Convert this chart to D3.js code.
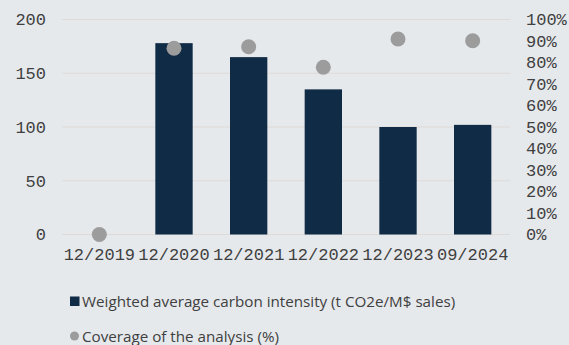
<!DOCTYPE html>
<html>
<head>
<meta charset="utf-8">
<script src="https://cdn.jsdelivr.net/npm/d3@7"></script>
<style>
  html, body { margin: 0; padding: 0; background: #e6e9ec; }
  svg { display: block; }
</style>
</head>
<body>
<svg id="chart" width="569" height="345"></svg>
<script>
// Carbon intensity per period and coverage of the analysis
const periods = ["12/2019", "12/2020", "12/2021", "12/2022", "12/2023", "09/2024"];
const intensity = [0, 178, 165, 135, 100, 102];
const coverage = [0, 86.6, 87.3, 77.8, 90.9, 90.1];
const leftTicks = [0, 50, 100, 150, 200];
const rightTicks = [0, 10, 20, 30, 40, 50, 60, 70, 80, 90, 100];
const legendLabels = ["Weighted average carbon intensity (t CO2e/M$ sales)", "Coverage of the analysis (%)"];

const W = 569, H = 345;
const margin = { left: 62, right: 59, top: 19.5, bottom: 110.5 };
const svg = d3.select("#chart");
const monoFont = "'Liberation Mono', monospace";
const textColor = "#404040";

const x = d3.scaleBand().domain(periods).range([margin.left, W - margin.right]).paddingInner(0.5).paddingOuter(0.25);
const yL = d3.scaleLinear().domain([0, 200]).range([H - margin.bottom, margin.top]);
const yR = d3.scaleLinear().domain([0, 100]).range([H - margin.bottom, margin.top]);

// horizontal gridlines
svg.append("g").selectAll("line").data(leftTicks).join("line")
  .attr("x1", margin.left).attr("x2", W - margin.right)
  .attr("y1", d => yL(d)).attr("y2", d => yL(d))
  .attr("stroke", "#dedad8").attr("stroke-width", 1.2);

// left axis
const axL = svg.append("g").attr("transform", `translate(${margin.left - 16},0)`)
  .call(d3.axisLeft(yL).tickValues(leftTicks).tickSize(0).tickPadding(0));
axL.select(".domain").remove();
axL.selectAll("text").attr("font-family", monoFont).attr("font-size", 17).attr("fill", textColor);

// right axis
const axR = svg.append("g").attr("transform", `translate(${W - margin.right + 16},0)`)
  .call(d3.axisRight(yR).tickValues(rightTicks).tickFormat(d => d + "%").tickSize(0).tickPadding(0));
axR.select(".domain").remove();
axR.selectAll("text").attr("font-family", monoFont).attr("font-size", 17).attr("fill", textColor);

// bottom axis
const axB = svg.append("g").attr("transform", `translate(0,${H - margin.bottom})`)
  .call(d3.axisBottom(x).tickSize(0).tickPadding(13));
axB.select(".domain").remove();
axB.selectAll("text").attr("font-family", monoFont).attr("font-size", 17).attr("fill", textColor);

// bars
svg.append("g").selectAll("rect").data(periods).join("rect")
  .attr("x", d => x(d))
  .attr("width", x.bandwidth())
  .attr("y", (d, i) => yL(intensity[i]))
  .attr("height", (d, i) => yL(0) - yL(intensity[i]))
  .attr("fill", "#0f2b45");

// coverage dots
svg.append("g").selectAll("circle").data(periods).join("circle")
  .attr("cx", d => x(d) + x.bandwidth() / 2)
  .attr("cy", (d, i) => yR(coverage[i]))
  .attr("r", 7.5)
  .attr("fill", "#9c9c9c");

// legend
const lg = svg.append("g");
lg.append("rect").attr("x", 70).attr("y", 296.5).attr("width", 9.5).attr("height", 9.5).attr("fill", "#0f2b45");
lg.append("circle").attr("cx", 74.5).attr("cy", 336).attr("r", 4.5).attr("fill", "#9c9c9c");
lg.selectAll("text").data(legendLabels).join("text")
  .attr("x", 82).attr("y", (d, i) => i === 0 ? 300.5 : 335.5)
  .attr("dominant-baseline", "central")
  .attr("font-family", "'Open Sans', sans-serif").attr("font-size", 15.2)
  .attr("fill", textColor)
  .text(d => d);
</script>
</body>
</html>
